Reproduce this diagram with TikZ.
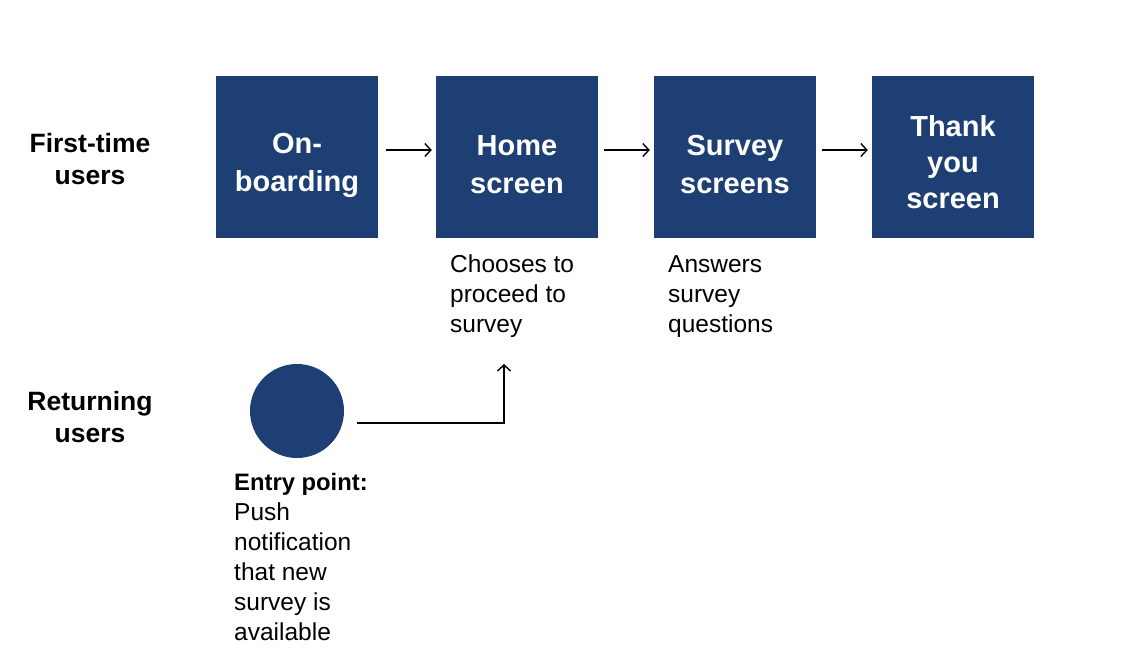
\documentclass[tikz,border=0pt]{standalone}
\usepackage{fontspec}
\setmainfont{Liberation Sans}
\usetikzlibrary{arrows.meta}
\definecolor{navy}{HTML}{1D3F73}
\begin{document}
\begin{tikzpicture}[x=1pt,y=-1pt,
  screen/.style={fill=navy,draw=none,minimum width=162,minimum height=162,inner sep=0},
  screentext/.style={text=white,align=center,inner sep=0,font=\fontsize{29}{38}\selectfont\bfseries},
  rowlabel/.style={align=center,inner sep=0,font=\fontsize{26.5}{32}\selectfont\bfseries},
  note/.style={align=left,inner sep=0,anchor=north west,font=\fontsize{24.5}{30}\selectfont},
  flow/.style={-{Straight Barb[length=6pt,width=13pt,line width=1.4pt]},line width=1.4pt,black}]
\useasboundingbox (0,0) rectangle (1146,648);
\node[rowlabel] (ft) at (90,159) {First-time\\users};
\node[rowlabel] (ru) at (90,417) {Returning\\users};
\node[screen] (ob) at (297,157) {};
\node[screen] (hs) at (517,157) {};
\node[screen] (ss) at (735,157) {};
\node[screen] (ty) at (953,157) {};
\node[screentext] (obt) at (297,165) {On-\\boarding};
\node[screentext] (hst) at (517,165) {Home\\screen};
\node[screentext] (sst) at (735,165) {Survey\\screens};
\node[screentext,font=\fontsize{29}{36}\selectfont\bfseries] (tyt) at (953,162) {Thank\\you\\screen};
\draw[flow,shorten <=8pt,shorten >=4pt] ([yshift=7pt]ob.east) -- ([yshift=7pt]hs.west);
\draw[flow,shorten <=6pt,shorten >=4pt] ([yshift=7pt]hs.east) -- ([yshift=7pt]ss.west);
\draw[flow,shorten <=6pt,shorten >=4pt] ([yshift=7pt]ss.east) -- ([yshift=7pt]ty.west);
\node[note] (n1) at (450,255) {Chooses to\\proceed to\\survey};
\node[note] (n2) at (668,255) {Answers\\survey\\questions};
\node[circle,fill=navy,minimum size=94,inner sep=0] (ep) at (297,411) {};
\node[note] (n3) at (234,473) {{\fontsize{23.8}{30}\selectfont\bfseries Entry point:}\\Push\\notification\\that new\\survey is\\available};
\coordinate (st) at (357,423);
\coordinate (en) at (504,364);
\draw[flow] (st) -| (en);
\end{tikzpicture}
\end{document}
